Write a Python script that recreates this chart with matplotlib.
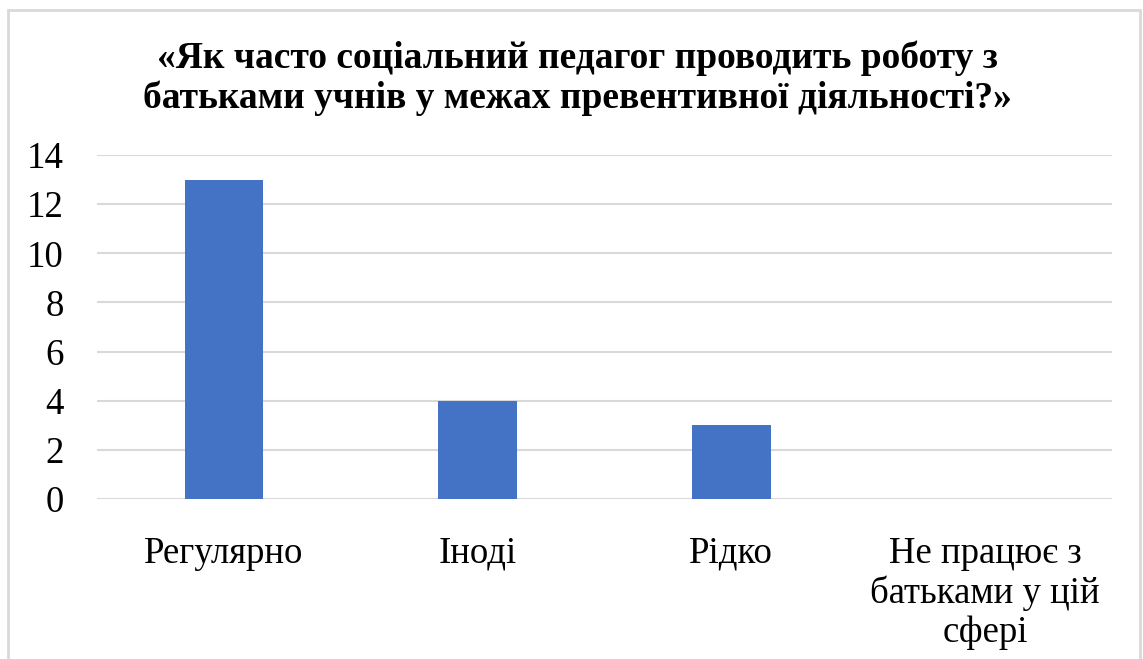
import matplotlib.pyplot as plt
from matplotlib.patches import Rectangle

categories = ['Регулярно', 'Іноді', 'Рідко', 'Не працює з\nбатьками у цій\nсфері']
values = [13, 4, 3, 0]
title = '«Як часто соціальний педагог проводить роботу з\nбатьками учнів у межах превентивної діяльності?»'

plt.rcParams['font.family'] = ['Liberation Serif', 'DejaVu Serif']

fig = plt.figure(figsize=(11.43, 6.59), dpi=100)
ax = fig.add_axes([97 / 1143, 1 - 499 / 659, 1015 / 1143, 344 / 659])

x = range(len(categories))
ax.bar(x, values, width=0.31, color='#4472C4', zorder=3)
ax.set_xlim(-0.5, len(categories) - 0.5)
ax.set_ylim(0, 14)
ax.set_yticks(range(0, 15, 2))
ax.set_xticks(list(x))
ax.set_xticklabels(categories, linespacing=1.17)
ax.tick_params(axis='y', length=0, pad=24, labelsize=26.5)
ax.tick_params(axis='x', length=0, pad=27, labelsize=26.5)
ax.grid(axis='y', color='#d9d9d9', linewidth=1.5, zorder=0)
for s in ax.spines.values():
    s.set_visible(False)

fig.text(577 / 1143, 1 - 40 / 659, title, ha='center', va='top',
         fontsize=27, fontweight='bold', linespacing=1.2)

fig.patches.append(Rectangle((8 / 1143, -0.1), 1132 / 1143, 1.1 - 10 / 659,
                             transform=fig.transFigure, fill=False,
                             edgecolor='#d9d9d9', linewidth=2))

fig.savefig('out.png', dpi=100)
